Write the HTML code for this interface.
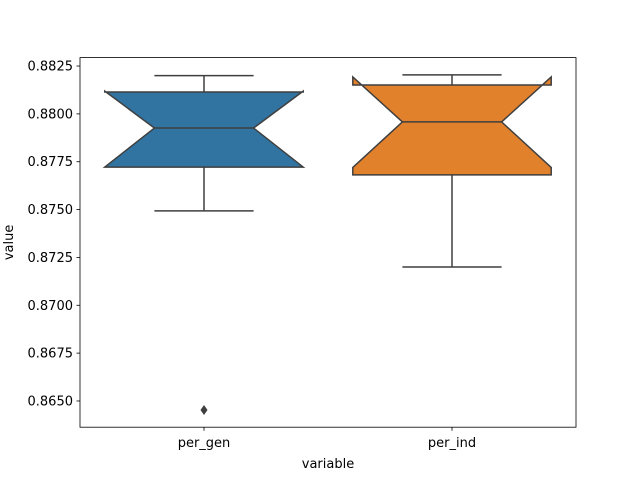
<!DOCTYPE html>
<html><head><meta charset="utf-8"><style>body{margin:0;background:#fff}svg{font-family:"DejaVu Sans","Liberation Sans",sans-serif}</style></head>
<body>
<svg id="c" width="640" height="480"></svg>
<script>
const categories=["per_gen","per_ind"];
const whiskLo=[0.87493,0.87200];
const q1=[0.87722,0.87681];
const med=[0.87926,0.87958];
const q3=[0.88114,0.88151];
const whiskHi=[0.88200,0.88204];
const notchLo=[0.87722,0.87720];
const notchHi=[0.88119,0.88193];
const outliers=[[0.86453],[]];
const colors=["#3274a1","#e1812c"];
const yTicks=[0.8650,0.8675,0.8700,0.8725,0.8750,0.8775,0.8800,0.8825];
const L=80,R=576,T=57.6,B=427.2,yMin=0.86363,yMax=0.88294;
const y=v=>B-(v-yMin)/(yMax-yMin)*(B-T);
const band=(R-L)/categories.length;
const xc=i=>L+band*(i+0.5);
const NS="http://www.w3.org/2000/svg";
const svg=document.getElementById('c');
function mk(t,a,p){const e=document.createElementNS(NS,t);for(const k in a)e.setAttribute(k,a[k]);(p||svg).appendChild(e);return e;}
mk('rect',{x:L,y:T,width:R-L,height:B-T,fill:'#fff',stroke:'none'});
yTicks.forEach(v=>{const yy=y(v);
const tk=mk('line',{x1:L-3.5,x2:L,y1:yy,y2:yy,stroke:'#000','stroke-width':0.8});

const t=mk('text',{x:L-7,y:yy+4.5,'text-anchor':'end','font-size':13});t.textContent=v.toFixed(4);
});
categories.forEach((c,i)=>{const cx=xc(i),hw=band*0.4,l=cx-hw,r=cx+hw,ins=hw*0.5,ln='#3f3f3f';
const g=mk('g',{});
mk('line',{x1:cx,x2:cx,y1:y(q3[i]),y2:y(whiskHi[i]),stroke:ln,'stroke-width':1.5},g);
mk('line',{x1:cx,x2:cx,y1:y(q1[i]),y2:y(whiskLo[i]),stroke:ln,'stroke-width':1.5},g);
mk('line',{x1:cx-hw/2,x2:cx+hw/2,y1:y(whiskHi[i]),y2:y(whiskHi[i]),stroke:ln,'stroke-width':1.5},g);
mk('line',{x1:cx-hw/2,x2:cx+hw/2,y1:y(whiskLo[i]),y2:y(whiskLo[i]),stroke:ln,'stroke-width':1.5},g);
const pts=[[l,y(q1[i])],[l,y(notchLo[i])],[l+ins,y(med[i])],[l,y(notchHi[i])],[l,y(q3[i])],[r,y(q3[i])],[r,y(notchHi[i])],[r-ins,y(med[i])],[r,y(notchLo[i])],[r,y(q1[i])]];
mk('polygon',{points:pts.map(p=>p.join(',')).join(' '),fill:colors[i],stroke:ln,'stroke-width':1.5,'stroke-linejoin':'miter'},g);
mk('line',{x1:l+ins,x2:r-ins,y1:y(med[i]),y2:y(med[i]),stroke:ln,'stroke-width':1.5},g);
outliers[i].forEach(o=>{const d=mk('polygon',{points:`${cx},${y(o)-5} ${cx+3.5},${y(o)} ${cx},${y(o)+5} ${cx-3.5},${y(o)}`,fill:ln},g);
});
const tk=mk('line',{x1:cx,x2:cx,y1:B,y2:B+3.5,stroke:'#000','stroke-width':0.8});
const t=mk('text',{x:cx,y:B+20,'text-anchor':'middle','font-size':13});t.textContent=c;
});
mk('rect',{x:L,y:T,width:R-L,height:B-T,fill:'none',stroke:'#000','stroke-width':0.8});
const xl=mk('text',{x:(L+R)/2,y:468,'text-anchor':'middle','font-size':13});xl.textContent='variable';

const yl=mk('text',{x:13,y:(T+B)/2,'text-anchor':'middle','font-size':13,transform:`rotate(-90 13 ${(T+B)/2})`});yl.textContent='value';

</script>
</body></html>
